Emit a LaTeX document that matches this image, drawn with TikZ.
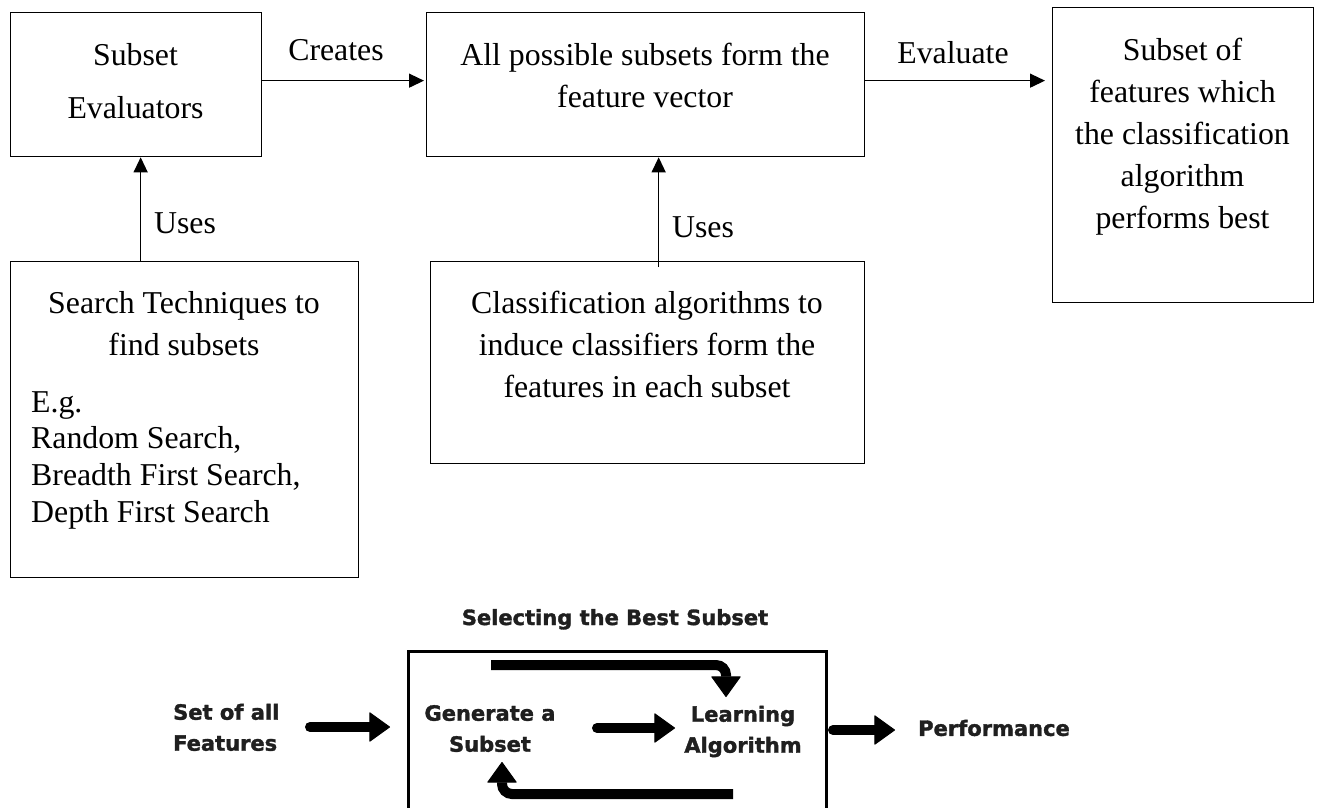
\documentclass[tikz,border=0pt]{standalone}
\usepackage{fontspec}
\setmainfont{Liberation Serif}
\newfontfamily\heavyfont{DejaVu Sans}[BoldFeatures={FakeBold=1.6}]
\usetikzlibrary{arrows.meta}

% multi-line text whose reference point is the first baseline
\newcommand\linesT[2]{\begin{tabular}[t]{@{}#1@{}}#2\end{tabular}}
% multi-line text centred on its own box
\newcommand\linesC[2]{\begin{tabular}{@{}#1@{}}#2\end{tabular}}

\tikzset{
  x=1pt, y=-1pt,
  box/.style={draw, line width=1.3pt, inner sep=0pt, anchor=north west},
  txt/.style={font=\fontsize{31.8}{42}\selectfont, inner sep=0pt, anchor=base},
  thinarrow/.style={line width=1.3pt, -{Triangle[length=15pt,width=14pt]}},
  fatarrow/.style={line width=10pt, line cap=round,
    -{Triangle[length=21pt,width=30pt,line width=1pt,round]}},
  looparrow/.style={fatarrow, line cap=butt, rounded corners=10pt},
  heavy/.style={font=\heavyfont\bfseries\fontsize{21}{31}\selectfont, inner sep=0pt,
    text=black!88},
}

\begin{document}
\begin{tikzpicture}
\useasboundingbox (0,0) rectangle (1321,807);

% ---------- upper diagram: boxes ----------
\node[box, minimum width=251pt, minimum height=144pt] (b1) at (10,12) {};
\node[box, minimum width=438pt, minimum height=144pt] (b2) at (426,12) {};
\node[box, minimum width=261pt, minimum height=295pt] (b3) at (1052,7) {};
\node[box, minimum width=348pt, minimum height=316pt] (b4) at (10,261) {};
\node[box, minimum width=434pt, minimum height=202pt] (b5) at (430,261) {};

% ---------- upper diagram: box texts ----------
\node[txt, font=\fontsize{31.8}{53}\selectfont] (t1) at (135.5,65)
  {\linesT{c}{Subset\\Evaluators}};
\node[txt] (t2) at (645,65)
  {\linesT{c}{All possible subsets form the\\feature vector}};
\node[txt] (t3) at (1182.5,60)
  {\linesT{c}{Subset of\\features which\\the classification\\algorithm\\performs best}};
\node[txt] (t4) at (184,313)
  {\linesT{c}{Search Techniques to\\find subsets}};
\node[txt, anchor=base west, font=\fontsize{31.8}{36.7}\selectfont] (t4b) at (31,412)
  {\linesT{l}{E.g.\\Random Search,\\Breadth First Search,\\Depth First Search}};
\node[txt] (t5) at (647,313)
  {\linesT{c}{Classification algorithms to\\induce classifiers form the\\features in each subset}};

% ---------- upper diagram: connectors ----------
\path ([yshift=4pt]b1.east) coordinate (c0);
\draw[thinarrow, shorten >=2pt] (c0) -- (c0 -| b2.west);
\path ([yshift=4pt]b2.east) coordinate (e0);
\draw[thinarrow, shorten >=7pt] (e0) -- (e0 -| b3.west);
\path ([xshift=4.5pt]b1.south) coordinate (u1);
\draw[thinarrow] (u1 |- b4.north) -- (u1);
\path ([xshift=13pt]b2.south) coordinate (u2);
\draw[thinarrow] (u2 |- b5.north) ++(0,6) -- (u2);

\node[txt] (lc) at (336,60) {Creates};
\node[txt] (le) at (953,63) {Evaluate};
\node[txt] (lu1) at (185,233) {Uses};
\node[txt] (lu2) at (703,237) {Uses};

% ---------- lower diagram ----------
\node[heavy, anchor=base] (title) at (615,625) {Selecting the Best Subset};
\node[draw, line width=3pt, inner sep=0pt, anchor=north west,
      minimum width=418pt, minimum height=200pt] (frame) at (407,650) {};

\node[heavy, anchor=west] (allf) at (173,729) {\linesC{l}{Set of all\\Features}};
\node[heavy] (gen) at (490,730) {\linesC{c}{Generate a\\Subset}};
\node[heavy] (learn) at (743,731) {\linesC{c}{Learning\\Algorithm}};
\node[heavy, anchor=west] (perf) at (918,728) {Performance};

\path (310,727) coordinate (a1s) (390,727) coordinate (a1e);
\draw[fatarrow] (a1s) -- (a1e);
\path (597,728) coordinate (a2s) (675,728) coordinate (a2e);
\draw[fatarrow] (a2s) -- (a2e);
\path (833,730) coordinate (a3s) (895,730) coordinate (a3e);
\draw[fatarrow] (a3s) -- (a3e);

% feedback loop inside the frame
\path (491,665) coordinate (la) (726,665) coordinate (lb) (726,697) coordinate (lc2);
\draw[looparrow] (la) -- (lb) -- (lc2);
\path (733,794) coordinate (ld) (502,794) coordinate (le2) (502,762) coordinate (lf);
\draw[looparrow] (ld) -- (le2) -- (lf);
\end{tikzpicture}
\end{document}
